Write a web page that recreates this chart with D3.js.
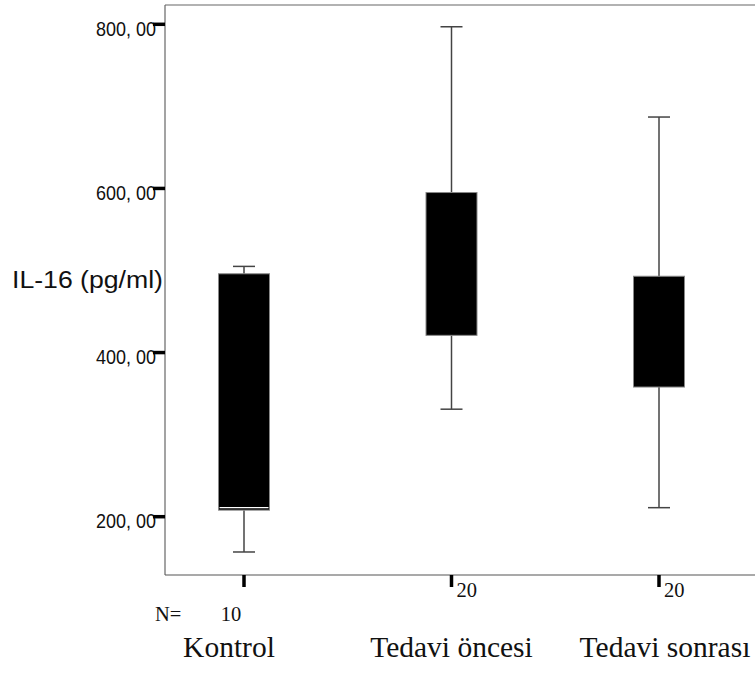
<!DOCTYPE html>
<html><head><meta charset="utf-8">
<script src="https://cdn.jsdelivr.net/npm/d3@7"></script>
<style>body{margin:0;background:#fff}</style>
</head><body>
<script>
const categories = ["Kontrol", "Tedavi öncesi", "Tedavi sonrası"];
const counts = [10, 20, 20];
const whiskerLow = [157, 331, 211];
const q1 = [208, 421, 358];
const median = [211, null, null];
const q3 = [496, 595, 493];
const whiskerHigh = [505, 797, 687];
const yTicks = [200, 400, 600, 800];

const W = 755, H = 675;
const svg = d3.select("body").append("svg").attr("width", W).attr("height", H);

const y = d3.scaleLinear().domain([200, 800]).range([516.7, 24.3]);
const x = d3.scalePoint().domain(categories).range([244, 659]);
const fmt = v => String(v) + ", 00";

const axisLeft = 165, axisBottom = 575, topY = 5;
const sans = "Liberation Sans, Arial, sans-serif";
const serif = "Liberation Serif, Times New Roman, serif";

// frame lines
svg.append("line").attr("x1", axisLeft).attr("x2", W).attr("y1", topY).attr("y2", topY)
  .attr("stroke", "#999").attr("stroke-width", 1.5);
svg.append("line").attr("x1", axisLeft).attr("x2", axisLeft).attr("y1", topY).attr("y2", axisBottom)
  .attr("stroke", "#666").attr("stroke-width", 1.2);
svg.append("line").attr("x1", axisLeft).attr("x2", W).attr("y1", axisBottom).attr("y2", axisBottom)
  .attr("stroke", "#555").attr("stroke-width", 1.2);

// y tick labels and ticks
const yg = svg.append("g");
yg.selectAll("text").data(yTicks).join("text")
  .attr("x", 96).attr("y", d => y(d) + 11.5)
  .attr("font-family", sans).attr("font-size", 19.5)
  .attr("textLength", 60).attr("lengthAdjust", "spacingAndGlyphs")
  .attr("fill", "#111").text(fmt);
yg.selectAll("line").data(yTicks).join("line")
  .attr("x1", 153).attr("x2", axisLeft).attr("y1", d => y(d)).attr("y2", d => y(d))
  .attr("stroke", "#000").attr("stroke-width", 3.5);

// y title
svg.append("text").attr("x", 12).attr("y", 288)
  .attr("font-family", sans).attr("font-size", 23.5)
  .attr("textLength", 151).attr("lengthAdjust", "spacingAndGlyphs")
  .attr("fill", "#111").text("IL-16 (pg/ml)");

// boxes
const boxW = 51, capW = 22;
const g = svg.append("g");
categories.forEach((c, i) => {
  const cx = x(c);
  const gs = g.append("g");
  const ws = {stroke: "#444", w: 1.5};
  gs.append("line").attr("x1", cx).attr("x2", cx).attr("y1", y(whiskerHigh[i])).attr("y2", y(q3[i]))
    .attr("stroke", ws.stroke).attr("stroke-width", ws.w);
  gs.append("line").attr("x1", cx).attr("x2", cx).attr("y1", y(q1[i])).attr("y2", y(whiskerLow[i]))
    .attr("stroke", ws.stroke).attr("stroke-width", ws.w);
  gs.append("line").attr("x1", cx - capW / 2).attr("x2", cx + capW / 2)
    .attr("y1", y(whiskerHigh[i])).attr("y2", y(whiskerHigh[i]))
    .attr("stroke", ws.stroke).attr("stroke-width", ws.w);
  gs.append("line").attr("x1", cx - capW / 2).attr("x2", cx + capW / 2)
    .attr("y1", y(whiskerLow[i])).attr("y2", y(whiskerLow[i]))
    .attr("stroke", ws.stroke).attr("stroke-width", ws.w);
  gs.append("rect").attr("x", cx - boxW / 2).attr("width", boxW)
    .attr("y", y(q3[i])).attr("height", y(q1[i]) - y(q3[i]))
    .attr("fill", "#000").attr("stroke", "#888").attr("stroke-width", 1);
  if (median[i] != null) {
    gs.append("line").attr("x1", cx - boxW / 2 + 1).attr("x2", cx + boxW / 2 - 1)
      .attr("y1", y(median[i])).attr("y2", y(median[i]))
      .attr("stroke", "#fff").attr("stroke-width", 1.2);
  }
});

// x ticks
svg.append("g").selectAll("line").data(categories).join("line")
  .attr("x1", d => x(d)).attr("x2", d => x(d)).attr("y1", axisBottom).attr("y2", 587)
  .attr("stroke", "#000").attr("stroke-width", 3.5);

// N labels
svg.append("text").attr("x", 155).attr("y", 621).attr("font-family", serif).attr("font-size", 20.5)
  .attr("fill", "#111").text("N=");
svg.append("g").selectAll("text").data(categories).join("text")
  .attr("x", (d, i) => i === 0 ? x(d) - 13 : x(d) + 5)
  .attr("y", (d, i) => i === 0 ? 621 : 597)
  .attr("text-anchor", (d, i) => i === 0 ? "middle" : "start")
  .attr("font-family", serif).attr("font-size", 20.5).attr("fill", "#111")
  .text((d, i) => counts[i]);

// category labels
const labelDx = [-15, 0, 6];
svg.append("g").selectAll("text").data(categories).join("text")
  .attr("x", (d, i) => x(d) + labelDx[i]).attr("y", 657)
  .attr("text-anchor", "middle")
  .attr("font-family", serif).attr("font-size", 29.5).attr("fill", "#111")
  .text(d => d);
</script>
</body></html>
